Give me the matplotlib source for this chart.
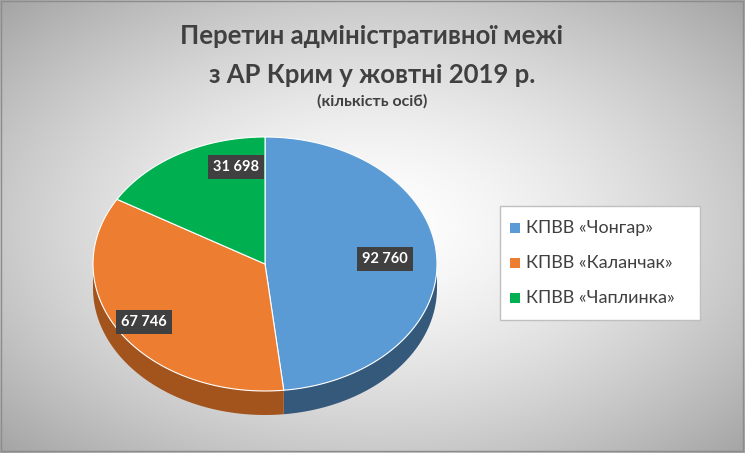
import numpy as np
import matplotlib
matplotlib.use("Agg")
import matplotlib.pyplot as plt
from matplotlib.patches import Polygon, Rectangle

categories = ["КПВВ «Чонгар»", "КПВВ «Каланчак»", "КПВВ «Чаплинка»"]
values = [92760, 67746, 31698]
labels = ["92 760", "67 746", "31 698"]
colors = ["#5B9BD5", "#ED7D31", "#00B050"]
side_colors = ["#34597a", "#a3531c", "#007a38"]

W, H = 745, 453
fig = plt.figure(figsize=(W/100, H/100), dpi=100)
ax = fig.add_axes([0, 0, 1, 1])
ax.set_xlim(0, W); ax.set_ylim(H, 0); ax.axis("off")

yy, xx = np.mgrid[0:H, 0:W]
r = np.sqrt(((xx - W/2)/(W*0.6))**2 + ((yy - H/2)/(H*0.6))**2)
g = np.clip(1 - 0.28*r**1.5, 0, 1)
ax.imshow(np.dstack([g, g, g]), extent=(0, W, H, 0), zorder=0)
ax.add_patch(Rectangle((1, 1), W-3, H-3, fill=False, ec="#8c8c8c", lw=1, zorder=1))

cx, cy, rx, ry, depth = 265, 264, 172, 127, 24
total = sum(values)
bounds = [-90.0]
for v in values:
    bounds.append(bounds[-1] + 360.0*v/total)

def ell(t, dy=0):
    t = np.radians(t)
    return np.column_stack([cx + rx*np.cos(t), cy + ry*np.sin(t) + dy])

for i in range(len(values)):
    a0, a1 = bounds[i], bounds[i+1]
    for base in (-360, 0, 360):
        s, e = max(a0, base), min(a1, base+180)
        if e > s:
            t = np.linspace(s, e, 80)
            top = ell(t); bot = ell(t[::-1], depth)
            ax.add_patch(Polygon(np.vstack([top, bot]), closed=True,
                                 fc=side_colors[i], ec="none", zorder=2))

for i in range(len(values)):
    t = np.linspace(bounds[i], bounds[i+1], 200)
    pts = np.vstack([[cx, cy], ell(t)])
    ax.add_patch(Polygon(pts, closed=True, fc=colors[i], ec="white", lw=0.8, zorder=3))

facs = [0.70, 0.84, 0.78]
for i in range(len(values)):
    m = np.radians((bounds[i] + bounds[i+1]) / 2)
    x = cx + facs[i]*rx*np.cos(m); y = cy + facs[i]*ry*np.sin(m)
    if i == 2:
        x, y = 236, 167
    ax.text(x, y, labels[i], ha="center", va="center", color="white",
            fontsize=10.5, fontweight="bold", family="Lato", zorder=5,
            bbox=dict(boxstyle="square,pad=0.35", fc="#404040", ec="none"))

ax.text(372, 36, "Перетин адміністративної межі", ha="center", va="center",
        fontsize=18.5, fontweight="bold", color="#404040", family="Lato")
ax.text(372, 75, "з АР Крим у жовтні 2019 р.", ha="center", va="center",
        fontsize=18.5, fontweight="bold", color="#404040", family="Lato")
ax.text(372, 101, "(кількість осіб)", ha="center", va="center",
        fontsize=11.5, fontweight="bold", color="#404040", family="Lato")

ax.add_patch(Rectangle((500, 206), 200, 114, fc="white", ec="#bfbfbf", lw=1, zorder=4))
for i, c in enumerate(categories):
    y = 228 + i*35
    ax.add_patch(Rectangle((510, y-5), 10, 10, fc=colors[i], ec="none", zorder=5))
    ax.text(526, y, c, ha="left", va="center", fontsize=13, color="#404040",
            family="Lato", zorder=5)

fig.savefig("out.png", dpi=100)
